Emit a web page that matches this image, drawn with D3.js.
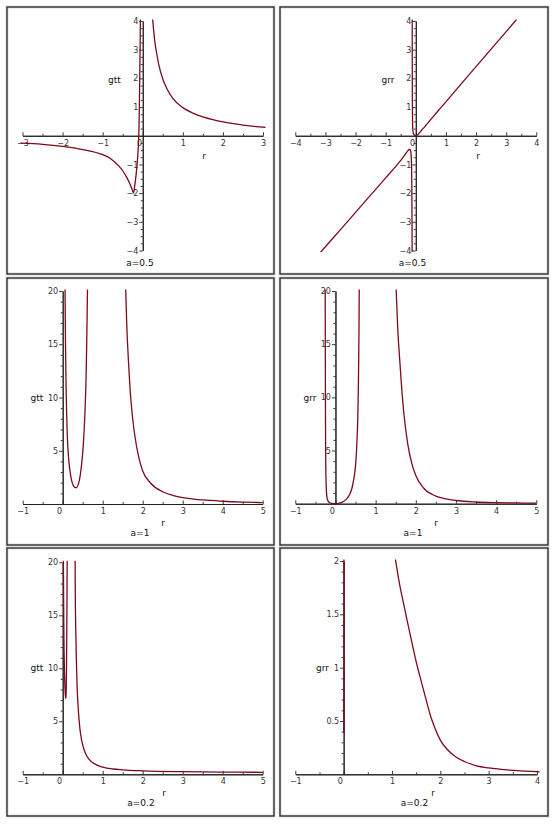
<!DOCTYPE html>
<html><head><meta charset="utf-8">
<script src="https://cdn.jsdelivr.net/npm/d3@7"></script>
<style>
body{margin:0;background:#fff}
svg{display:block}
text{font-family:"DejaVu Sans",sans-serif}
</style>
</head><body>
<svg id="chart" width="555" height="824"></svg>
<script>
// ---------- data ----------
const titles = ["a=0.5", "a=0.5", "a=1", "a=1", "a=0.2", "a=0.2"];
const yNames = ["gtt", "grr", "gtt", "grr", "gtt", "grr"];

// panel 1: gtt, a=0.5
const gttA05Neg = [[-3.05,-0.26],[-2.5,-0.3],[-2,-0.37],[-1.5,-0.48],[-1,-0.66],[-0.8,-0.8],[-0.6,-1.05],[-0.5,-1.22],[-0.4,-1.45],[-0.33,-1.65],[-0.28,-1.82],[-0.25,-1.93],[-0.23,-2.0],[-0.2,-1.75],[-0.17,-1.4],[-0.14,-1.0],[-0.12,-0.6],[-0.105,-0.2],[-0.095,0.2],[-0.085,1.0],[-0.075,2.0],[-0.065,3.2],[-0.058,4.1]];
const gttA05Pos = [[0.245,4.1],[0.27,3.7],[0.3,3.3],[0.35,2.85],[0.4,2.48],[0.5,1.98],[0.6,1.65],[0.75,1.3],[1,0.98],[1.25,0.79],[1.5,0.66],[1.75,0.56],[2,0.48],[2.5,0.37],[3,0.3],[3.06,0.295]];
// panel 2: grr, a=0.5
const grrA05Low = [[-3.17,-4.07],[-3,-3.87],[-2.5,-3.27],[-2,-2.67],[-1.5,-2.07],[-1,-1.47],[-0.75,-1.17],[-0.5,-0.86],[-0.4,-0.72],[-0.32,-0.6],[-0.26,-0.52],[-0.22,-0.48],[-0.19,-0.48],[-0.165,-0.55],[-0.15,-0.75],[-0.14,-1.1],[-0.132,-1.8],[-0.126,-2.8],[-0.122,-4.1]];
const grrA05Up = [[-0.12,4.1],[-0.117,2.5],[-0.113,1.2],[-0.108,0.5],[-0.1,0.22],[-0.085,0.1],[-0.06,0.04],[-0.03,0.01],[0,0],[0.03,0.01],[0.07,0.04],[0.12,0.1],[0.2,0.2],[0.3,0.32],[0.5,0.57],[0.75,0.88],[1,1.18],[1.5,1.8],[2,2.41],[2.5,3.02],[3,3.63],[3.35,4.06]];
// panel 3: gtt, a=1
const gttA1Well = [[0.058,20.2],[0.07,15],[0.085,11],[0.1,8.3],[0.12,6],[0.15,4.2],[0.19,2.9],[0.23,2.1],[0.27,1.7],[0.31,1.53],[0.34,1.53],[0.38,1.75],[0.42,2.3],[0.46,3.3],[0.5,4.8],[0.53,6.5],[0.56,9],[0.585,12],[0.6,15],[0.612,18],[0.62,20.2]];
const gttA1Tail = [[1.575,20.2],[1.6,17],[1.65,13],[1.7,10],[1.75,8],[1.8,6.5],[1.9,4.4],[2,3.1],[2.2,1.95],[2.5,1.15],[2.75,0.8],[3,0.6],[3.5,0.38],[4,0.26],[4.5,0.18],[5,0.13]];
// panel 4: grr, a=1
const grrA1Well = [[-0.256,20.2],[-0.253,15],[-0.25,10],[-0.246,6],[-0.241,3.5],[-0.234,2],[-0.224,1.1],[-0.21,0.55],[-0.18,0.22],[-0.14,0.09],[-0.09,0.03],[-0.04,0.005],[0,0],[0.05,0.015],[0.1,0.05],[0.2,0.2],[0.3,0.55],[0.35,0.85],[0.41,1.45],[0.45,2.2],[0.5,3.6],[0.535,5.8],[0.555,8],[0.57,11],[0.58,14],[0.587,17],[0.592,20.2]];
const grrA1Tail = [[1.51,20.2],[1.55,16.5],[1.6,13.5],[1.65,10.8],[1.7,8.6],[1.8,5.6],[1.9,3.8],[2,2.65],[2.2,1.45],[2.5,0.72],[2.75,0.45],[3,0.3],[3.5,0.16],[4,0.1],[4.5,0.07],[5,0.05]];
// panel 5: gtt, a=0.2
const gttA02Well = [[0.017,20.2],[0.022,17],[0.028,14],[0.035,11.5],[0.045,9.5],[0.058,8.1],[0.068,7.4],[0.076,7.15],[0.083,7.4],[0.09,8.5],[0.097,11],[0.103,14],[0.108,17],[0.112,20.2]];
const gttA02Tail = [[0.31,20.2],[0.315,17],[0.325,14],[0.34,11],[0.36,8.3],[0.39,6.1],[0.43,4.3],[0.48,3.1],[0.55,2.15],[0.65,1.45],[0.8,0.98],[1,0.68],[1.25,0.5],[1.5,0.42],[2,0.33],[3,0.25],[4,0.21],[5,0.19]];
// panel 6: grr, a=0.2
const grrA02Near0 = [[0.003,0.39],[0.004,0.9],[0.005,1.5],[0.006,2.02]];
const grrA02Tail = [[1.07,2.02],[1.15,1.8],[1.24,1.6],[1.31,1.45],[1.4,1.26],[1.52,1.02],[1.6,0.88],[1.7,0.71],[1.81,0.53],[1.9,0.42],[2,0.32],[2.15,0.23],[2.3,0.17],[2.5,0.12],[2.75,0.08],[3,0.06],[3.5,0.037],[4.05,0.024]];

// tick labels
const xTicksA = [-3,-2,-1,0,1,2,3];
const xTicksB = [-4,-3,-2,-1,0,1,2,3,4];
const xTicksC = [-1,0,1,2,3,4,5];
const xTicksD = [-1,0,1,2,3,4];
const yTicksA = [-4,-3,-2,-1,1,2,3,4];
const yTicksC = [5,10,15,20];
const yTicksD = [0.5,1,1.5,2];

// ---------- layout ----------
const panels = [
  {box:[7,7,267,267], xd:[-3,3], xr:[22.5,263], yd:[-4,4], yr:[250.5,21], xt:xTicksA, yt:yTicksA, xm:0.5, ym:0.25, ylp:[114.5,82.5], rp:[204,158.5], tp:[140,265.5], series:[gttA05Neg,gttA05Pos]},
  {box:[280,7,268,267], xd:[-4,4], xr:[295.3,536.3], yd:[-4,4], yr:[250.5,21], xt:xTicksB, yt:yTicksA, xm:0.5, ym:0.25, ylp:[388,82.5], rp:[478,158.5], tp:[412.5,265.5], series:[grrA05Low,grrA05Up]},
  {box:[7,278,267,267], xd:[-1,5], xr:[22.7,262.7], yd:[0,20], yr:[504,291], xt:xTicksC, yt:yTicksC, xm:0.5, ym:1, ylp:[37,401], rp:[163,526], tp:[140,536], series:[gttA1Well,gttA1Tail]},
  {box:[280,278,268,267], xd:[-1,5], xr:[295.3,536.3], yd:[0,20], yr:[503.7,291], xt:xTicksC, yt:yTicksC, xm:0.5, ym:1, ylp:[310,401], rp:[436,526], tp:[413,536], series:[grrA1Well,grrA1Tail]},
  {box:[7,548,267,268], xd:[-1,5], xr:[22.7,262.7], yd:[0,20], yr:[774.3,562.3], xt:xTicksC, yt:yTicksC, xm:0.5, ym:1, ylp:[37,671], rp:[164,796], tp:[141,806], series:[gttA02Well,gttA02Tail]},
  {box:[280,548,268,268], xd:[-1,4], xr:[295.3,537], yd:[0,2], yr:[774.3,561], xt:xTicksD, yt:yTicksD, xm:0.5, ym:0.1, ylp:[322.5,671], rp:[433,796], tp:[414.5,806], series:[grrA02Near0,grrA02Tail]}
];

const svg = d3.select("#chart");
const fmt = d => d < 0 ? "\u2212" + Math.abs(d) : String(d);
const lineColor = "#7b0a1d";
const axisColor = "#222";

panels.forEach((p, i) => {
  const g = svg.append("g");
  // frame
  g.append("rect").attr("x", p.box[0]).attr("y", p.box[1]).attr("width", p.box[2]).attr("height", p.box[3])
    .attr("fill", "none").attr("stroke", "#c4c4c4").attr("stroke-width", 2.6);
  g.append("rect").attr("x", p.box[0]).attr("y", p.box[1]).attr("width", p.box[2]).attr("height", p.box[3])
    .attr("fill", "none").attr("stroke", "#1a1a1a").attr("stroke-width", 1.1);

  const x = d3.scaleLinear().domain(p.xd).range(p.xr);
  const y = d3.scaleLinear().domain(p.yd).range(p.yr);
  const x0 = x(0), y0 = y(Math.max(0, p.yd[0]));

  // minor ticks
  const xMinor = d3.range(p.xd[0], p.xd[1] + 1e-9, p.xm).filter(v => Math.abs(v - Math.round(v)) > 1e-6);
  const yMinor = d3.range(p.yd[0], p.yd[1] + 1e-9, p.ym).map(v => +v.toFixed(4)).filter(v => !p.yt.some(t => Math.abs(t - v) < 1e-6) && Math.abs(v) > 1e-6);

  const xAxisMinor = d3.axisBottom(x).tickValues(xMinor).tickFormat("").tickSizeInner(-2).tickSizeOuter(0);
  const yAxisMinor = d3.axisLeft(y).tickValues(yMinor).tickFormat("").tickSizeInner(2).tickSizeOuter(0);
  const xAxis = d3.axisBottom(x).tickValues(p.xt).tickFormat(fmt).tickSizeInner(-3.5).tickSizeOuter(0).tickPadding(4.2);
  const yAxis = d3.axisLeft(y).tickValues(p.yt).tickFormat(fmt).tickSizeInner(3.5).tickSizeOuter(0).tickPadding(1);

  const gx = g.append("g").attr("transform", `translate(0,${y0})`).call(xAxis);
  g.append("g").attr("transform", `translate(0,${y0})`).call(xAxisMinor);
  g.append("g").attr("transform", `translate(${x0},0)`).call(yAxis);
  g.append("g").attr("transform", `translate(${x0},0)`).call(yAxisMinor);

  g.selectAll(".domain").attr("stroke", axisColor).attr("stroke-width", 1);
  g.selectAll(".tick line").attr("stroke", axisColor).attr("stroke-width", 0.9);
  g.selectAll(".tick text").attr("fill", "#333").style("font-size", "8px").style("font-family", "DejaVu Sans, sans-serif");
  // "0" on the r-axis sits left of the vertical axis
  gx.selectAll(".tick").filter(d => d === 0).select("text").attr("text-anchor", "end").attr("x", -1.2);

  // curves
  const clipId = "clip" + i;
  g.append("clipPath").attr("id", clipId).append("rect")
    .attr("x", p.box[0] + 2).attr("y", Math.min(p.yr[1], p.yr[0]) - 1.5)
    .attr("width", p.box[2] - 4).attr("height", Math.abs(p.yr[0] - p.yr[1]) + 3);
  const line = d3.line().x(d => x(d[0])).y(d => y(d[1])).curve(d3.curveMonotoneX);
  g.append("g").attr("clip-path", `url(#${clipId})`).selectAll("path").data(p.series).join("path")
    .attr("d", line).attr("fill", "none").attr("stroke", lineColor).attr("stroke-width", 1.3);

  // labels
  g.append("text").attr("x", p.ylp[0]).attr("y", p.ylp[1]).attr("text-anchor", "middle")
    .style("font-size", "9px").attr("fill", "#111").text(yNames[i]);
  g.append("text").attr("x", p.rp[0]).attr("y", p.rp[1]).attr("text-anchor", "middle")
    .style("font-size", "9px").attr("fill", "#111").text("r");
  g.append("text").attr("x", p.tp[0]).attr("y", p.tp[1]).attr("text-anchor", "middle")
    .style("font-size", "9px").attr("fill", "#111").text(titles[i]);
});
</script>
</body></html>
